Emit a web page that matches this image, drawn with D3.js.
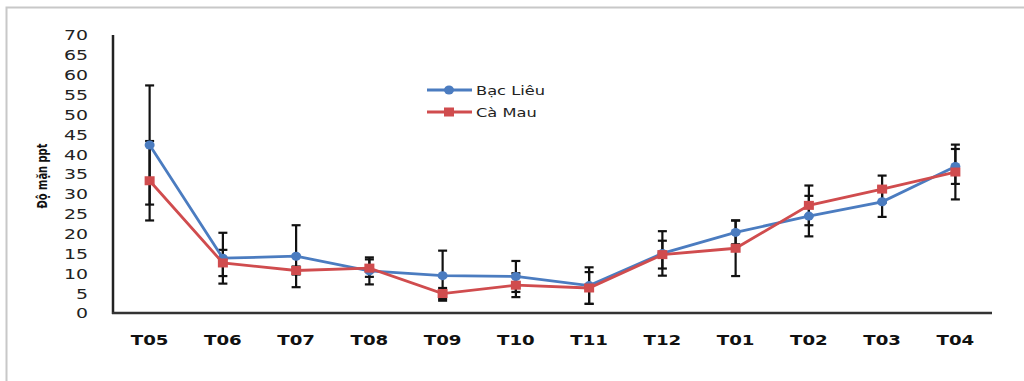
<!DOCTYPE html>
<html><head><meta charset="utf-8">
<script src="https://cdn.jsdelivr.net/npm/d3@7"></script>
<style>body{margin:0;background:#fff}svg{display:block}</style>
</head><body><svg id="c" width="1024" height="381"></svg>
<script>
const categories = ["T05","T06","T07","T08","T09","T10","T11","T12","T01","T02","T03","T04"];
const bacLieu    = [42.3,13.8,14.3,10.6,9.4,9.2,6.9,15.0,20.3,24.4,28.0,36.9];
const bacLieuErr = [15.0,6.4,7.8,3.4,6.3,3.9,4.6,5.6,3.0,5.1,3.8,4.4];
const caMau      = [33.3,12.6,10.7,11.3,4.9,7.0,6.3,14.7,16.3,27.1,31.2,35.5];
const caMauErr   = [10.0,3.3,1.0,2.2,1.4,3.0,4.0,3.5,7.0,5.0,3.4,6.9];
const yTicks = [0,5,10,15,20,25,30,35,40,45,50,55,60,65,70];
const seriesNames = ["Bạc Liêu","Cà Mau"];
const colors = ["#4b7cc0","#d04c4e"];

const SX = 1.3; // horizontal stretch of the reference text
const svg = d3.select("#c");
// frame
svg.append("path").attr("d","M6.5,381 V7.5 H1024").attr("fill","none").attr("stroke","#c8c8c8").attr("stroke-width",2);

const x = d3.scaleBand().domain(categories).range([113,992]);
const y = d3.scaleLinear().domain([0,70]).range([313,35]);

// y tick labels
const ya = svg.append("g").attr("transform","translate(88,0)")
  .call(d3.axisLeft(y).tickValues(yTicks).tickSize(0).tickPadding(0));
ya.select(".domain").remove();
ya.selectAll("text").attr("font-family","DejaVu Sans").attr("font-size",13.5).attr("fill","#222")
  .attr("x",0).attr("dy","0.36em").attr("transform","scale(1.4,1)");

// x tick labels
const xa = svg.append("g").attr("transform","translate(0,313)")
  .call(d3.axisBottom(x).tickSize(0).tickPadding(0));
xa.select(".domain").remove();
xa.selectAll("text").attr("font-family","DejaVu Sans").attr("font-weight","bold")
  .attr("font-size",14).attr("fill","#111").attr("dy","0").attr("y",32).attr("transform",`scale(${SX},1)`);

// axis lines
svg.append("line").attr("x1",113).attr("x2",113).attr("y1",y(70)).attr("y2",y(0)+1).attr("stroke","#222").attr("stroke-width",2.5);
svg.append("line").attr("x1",112).attr("x2",992).attr("y1",y(0)).attr("y2",y(0)).attr("stroke","#333").attr("stroke-width",2.5);

// y title
svg.append("text").attr("transform","translate(47,176) rotate(-90) scale(1,1.25)").attr("text-anchor","middle")
  .attr("font-family","DejaVu Sans Condensed, DejaVu Sans").attr("font-weight","bold").attr("font-size",11).attr("fill","#111")
  .text("Độ mặn ppt");

const cx = c => x(c) + x.bandwidth()/2;
const data = [
  {vals: bacLieu, errs: bacLieuErr, color: colors[0], shape: "circle"},
  {vals: caMau, errs: caMauErr, color: colors[1], shape: "square"}
];

// error bars
const eg = svg.append("g").attr("stroke","#111").attr("stroke-width",2.2);
data.forEach(s => {
  categories.forEach((c,i) => {
    const lo = y(s.vals[i]-s.errs[i]), hi = y(s.vals[i]+s.errs[i]);
    eg.append("line").attr("x1",cx(c)).attr("x2",cx(c)).attr("y1",lo).attr("y2",hi);
    eg.append("line").attr("x1",cx(c)-4.5).attr("x2",cx(c)+4.5).attr("y1",lo).attr("y2",lo);
    eg.append("line").attr("x1",cx(c)-4.5).attr("x2",cx(c)+4.5).attr("y1",hi).attr("y2",hi);
  });
});

// lines and markers
const line = d3.line().x((d,i)=>cx(categories[i])).y(d=>y(d));
data.forEach(s => {
  svg.append("path").datum(s.vals).attr("d",line).attr("fill","none").attr("stroke",s.color).attr("stroke-width",2.8);
  const g = svg.append("g").attr("fill",s.color);
  s.vals.forEach((v,i) => {
    if (s.shape==="circle") g.append("ellipse").attr("cx",cx(categories[i])).attr("cy",y(v)).attr("rx",5).attr("ry",4.5);
    else g.append("rect").attr("x",cx(categories[i])-5).attr("y",y(v)-4.5).attr("width",10).attr("height",9);
  });
});

// legend
const lg = svg.append("g");
data.forEach((s,i) => {
  const ly = 90 + i*22;
  lg.append("line").attr("x1",427).attr("x2",472).attr("y1",ly).attr("y2",ly).attr("stroke",s.color).attr("stroke-width",2.8);
  if (s.shape==="circle") lg.append("ellipse").attr("cx",449).attr("cy",ly).attr("rx",5).attr("ry",4.5).attr("fill",s.color);
  else lg.append("rect").attr("x",444).attr("y",ly-4.5).attr("width",10).attr("height",9).attr("fill",s.color);
  lg.append("g").attr("transform",`translate(476,${ly})`)
    .append("text").attr("dy","0.36em").attr("transform",`scale(${SX},1)`)
    .attr("font-family","DejaVu Sans").attr("font-size",12.5).attr("fill","#222").text(seriesNames[i]);
});
</script></body></html>
